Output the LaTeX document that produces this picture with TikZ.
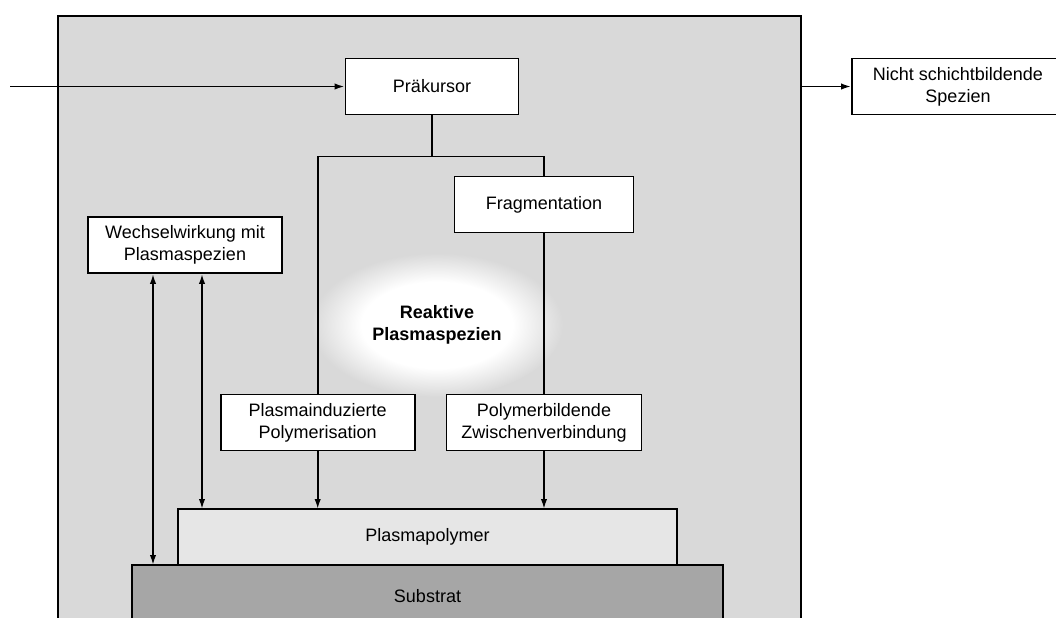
\documentclass[tikz,border=0pt]{standalone}
\usepackage{fontspec}
\setmainfont{Liberation Sans}
\usetikzlibrary{arrows.meta, positioning, shapes.geometric}
\definecolor{bggray}{HTML}{D9D9D9}
\definecolor{polygray}{HTML}{E6E6E6}
\definecolor{subgray}{HTML}{A6A6A6}
\pgfdeclareradialshading{plasmaglow}{\pgfpoint{0bp}{0bp}}{color(0bp)=(white); color(15bp)=(white); color(25bp)=(bggray); color(50bp)=(bggray)}
\tikzset{
  box/.style={rectangle,draw,fill=white,align=center,inner sep=2pt,minimum height=28pt,font=\fontsize{9}{11}\selectfont},
  layer/.style={box,outer sep=0pt},
  glow/.style={ellipse,shading=plasmaglow,align=center,minimum width=126pt,minimum height=72pt,font=\fontsize{9}{11}\selectfont\bfseries},
  line/.style={-{Latex[length=5pt,width=3.2pt]}},
  dline/.style={{Latex[length=5pt,width=3.2pt]}-{Latex[length=5pt,width=3.2pt]}}
}
\begin{document}
\begin{tikzpicture}[x=1pt,y=-1pt,line width=0.9pt,node distance=15pt]
\clip (0,0) rectangle (528,308.5);
\node[draw,fill=bggray,anchor=north west,minimum width=371.5pt,minimum height=320pt] (reactor) at (28.5,7.5) {};
\node[glow] (rps) at (218.5,162.5) {Reaktive\\Plasmaspezien};
\node[box,minimum width=86.5pt] (prae) at (216,43.25) {Präkursor};
\node[box,minimum width=106pt] (nicht) at (479,43.25) {Nicht schichtbildende\\Spezien};
\node[box,minimum width=89.5pt] (frag) at (272,102.25) {Fragmentation};
\node[box,minimum width=97pt] (wech) at (92.5,122.5) {Wechselwirkung mit\\Plasmaspezien};
\node[box,minimum width=97.5pt] (polyb) at (272,211.25) {Polymerbildende\\Zwischenverbindung};
\node[box,minimum width=97pt,left=of polyb] (plasind) {Plasmainduzierte\\Polymerisation};
\node[layer,fill=polygray,minimum width=249.5pt] (ppoly) at (213.75,268.5) {Plasmapolymer};
\node[layer,fill=subgray,minimum width=295.5pt,minimum height=31pt,below=0pt of ppoly] (subst) {Substrat};
\coordinate (feed) at (5,43.25);
\draw[line] (feed) -- (prae.west);
\draw[line] (reactor.east |- nicht.west) -- (nicht.west);
\draw (prae.south) -- ++(0,20.5) coordinate (fork) -| (plasind.north);
\draw (fork) -| (frag.north);
\draw (frag) -- (polyb);
\draw[line] (plasind.south) -- (plasind.south |- ppoly.north);
\draw[line] (polyb.south) -- (polyb.south |- ppoly.north);
\draw[dline] ([xshift=-16pt]wech.south) -- ([xshift=-16pt]wech.south |- subst.north);
\draw[dline] ([xshift=8.5pt]wech.south) -- ([xshift=8.5pt]wech.south |- ppoly.north);
\end{tikzpicture}
\end{document}
